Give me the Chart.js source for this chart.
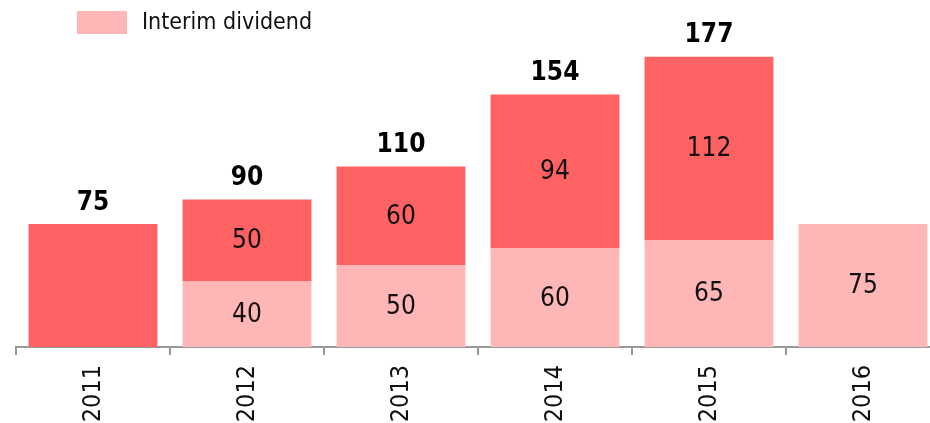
<!DOCTYPE html>
<html>
<head>
<meta charset="utf-8">
<script src="https://cdn.jsdelivr.net/npm/chart.js@4/dist/chart.umd.min.js"></script>
<style>
  html, body { margin: 0; padding: 0; overflow: hidden; background: #fff; }
  #wrap { width: 940px; height: 423px; }
</style>
</head>
<body>
<div id="wrap"><canvas id="chartDividend"></canvas></div>
<script>
var years = ['2011', '2012', '2013', '2014', '2015', '2016'];
var interim = [null, 40, 50, 60, 65, 75];
var finalDiv = [75, 50, 60, 94, 112, null];
var totals = [75, 90, 110, 154, 177, null];

var FONT = "'DejaVu Sans Condensed', 'DejaVu Sans', sans-serif";
var PINK = '#FFB6B6';
var RED = '#FF6262';

// legend drawn by hand so it sits where the original one does
var legendPlugin = {
    id: 'manualLegend',
    afterDraw: function (chart) {
        var c = chart.ctx;
        c.save();
        c.fillStyle = PINK;
        c.fillRect(77, 11, 50, 23);
        c.fillStyle = '#111';
        c.font = '23px ' + FONT;
        c.textBaseline = 'middle';
        c.textAlign = 'left';
        c.fillText('Interim dividend', 142, 23);
        c.restore();
    }
};

var labelPlugin = {
    id: 'barLabels',
    afterDatasetsDraw: function (chart) {
        var c = chart.ctx;
        var m0 = chart.getDatasetMeta(0);
        var m1 = chart.getDatasetMeta(1);
        c.save();
        c.textAlign = 'center';
        c.textBaseline = 'middle';
        c.fillStyle = '#111';
        c.font = '26px ' + FONT;
        for (var i = 0; i < years.length; i++) {
            var a = m0.data[i], b = m1.data[i];
            if (interim[i] != null) {
                c.fillText(interim[i], a.x, (a.y + a.base) / 2 + 1);
            }
            if (finalDiv[i] != null && interim[i] != null) {
                c.fillText(finalDiv[i], b.x, (b.y + b.base) / 2 + 1);
            }
        }
        c.font = 'bold 26px ' + FONT;
        c.fillStyle = '#000';
        for (var j = 0; j < years.length; j++) {
            if (totals[j] == null) continue;
            var top = chart.scales.y.getPixelForValue(totals[j]);
            c.fillText(totals[j], m1.data[j].x, top - 21);
        }
        c.restore();
    }
};

var ctx = document.getElementById('chartDividend').getContext('2d');
var myChart = new Chart(ctx, {
    type: 'bar',
    data: {
        labels: years,
        datasets: [{
            label: 'Interim dividend',
            data: interim,
            backgroundColor: PINK,
            categoryPercentage: 1,
            barPercentage: 0.837
        }, {
            label: 'Final dividend',
            data: finalDiv,
            backgroundColor: RED,
            categoryPercentage: 1,
            barPercentage: 0.837
        }]
    },
    options: {
        responsive: true,
        maintainAspectRatio: false,
        animation: false,
        layout: {
            padding: { left: 16, top: 19, right: 0, bottom: 0 }
        },
        plugins: {
            legend: { display: false },
            tooltip: { enabled: false }
        },
        scales: {
            x: {
                stacked: true,
                afterFit: function (scale) { scale.height = 76; },
                grid: {
                    drawOnChartArea: false,
                    color: '#999',
                    lineWidth: 2,
                    tickLength: 8
                },
                border: { color: '#999', width: 2 },
                ticks: {
                    minRotation: 90,
                    maxRotation: 90,
                    padding: 10,
                    color: '#111',
                    font: { family: FONT, size: 25 }
                }
            },
            y: {
                stacked: true,
                display: false,
                min: 0,
                max: 200
            }
        }
    },
    plugins: [labelPlugin, legendPlugin]
});
</script>
</body>
</html>
